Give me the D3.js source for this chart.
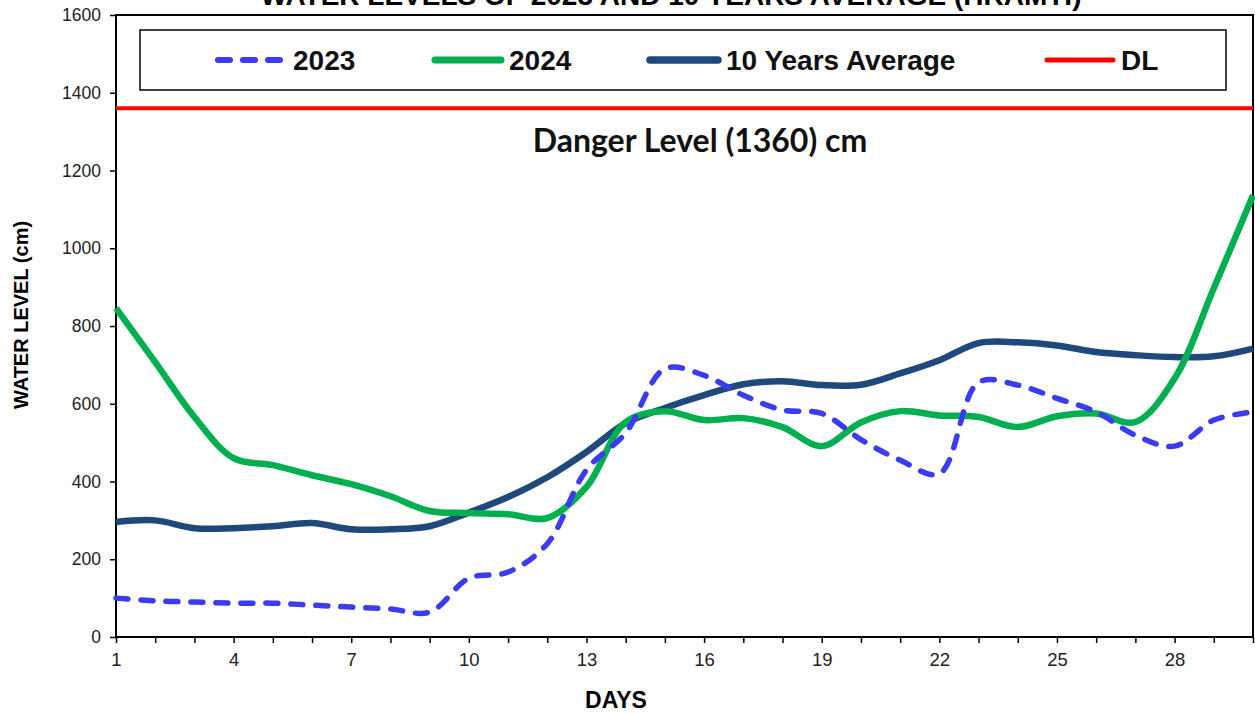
<!DOCTYPE html>
<html><head><meta charset="utf-8">
<script src="https://cdn.jsdelivr.net/npm/d3@7"></script>
<style>body{margin:0;background:#fff;}svg{display:block;}</style>
</head><body>
<svg id="c" width="1255" height="714"></svg>
<script>
const days = d3.range(1, 31);
const y2023 = [100,93,90,87,87,82,77,72,64,151,167,240,430,525,690,673,622,584,575,508,455,420,655,648,614,579,519,491,558,579];
const y2024 = [846,707,566,460,442,416,393,362,324,319,316,306,386,553,581,558,563,540,491,552,581,570,566,540,568,575,553,665,897,1136];
const avg10 = [296,300,280,280,285,293,277,277,285,320,360,411,476,550,589,622,650,658,648,649,678,712,756,758,750,733,725,720,722,742];
const dangerLevel = 1360;
const yTicks = [0,200,400,600,800,1000,1200,1400,1600];
const xTickLabels = [1,4,7,10,13,16,19,22,25,28];
const seriesNames = ["2023","2024","10 Years Average","DL"];

const svg = d3.select("#c");
const L = 116, R = 1253, T = 15, B = 637;
const x = d3.scaleLinear().domain([1,30]).range([L,R]);
const y = d3.scaleLinear().domain([0,1600]).range([B,T]);
const fontAx = "Liberation Sans, Arial, sans-serif";

// title (clipped at top, as in the reference)
svg.append("text").attr("x", 671).attr("y", 5).attr("text-anchor","middle")
  .attr("font-family",fontAx).attr("font-weight","bold").attr("font-size",28)
  .text("WATER LEVELS OF 2023 AND 10 YEARS AVERAGE (HRAMTI)");

// axes
const yAxis = svg.append("g").attr("transform",`translate(${L},0)`)
  .call(d3.axisLeft(y).tickValues(yTicks).tickFormat(d3.format("d")).tickSize(6).tickPadding(9));
yAxis.select(".domain").remove();
yAxis.selectAll("line").attr("stroke","#000").attr("stroke-width",1.5);
yAxis.selectAll("text").attr("font-family",fontAx).attr("font-size",17.5).attr("fill","#222");

const xAxis = svg.append("g").attr("transform",`translate(0,${B})`)
  .call(d3.axisBottom(x).tickValues(days).tickSize(6).tickPadding(10)
    .tickFormat(d => xTickLabels.includes(d) ? d : ""));
xAxis.select(".domain").remove();
xAxis.selectAll("line").attr("stroke","#000").attr("stroke-width",1.5);
xAxis.selectAll("text").attr("font-family",fontAx).attr("font-size",18.5).attr("fill","#222");

// plot border
svg.append("rect").attr("x",L).attr("y",T).attr("width",R-L).attr("height",B-T)
  .attr("fill","none").attr("stroke","#000").attr("stroke-width",2);

// axis titles
svg.append("text").attr("transform","translate(28,315) rotate(-90)").attr("text-anchor","middle")
  .attr("font-family",fontAx).attr("font-weight","bold").attr("font-size",20).text("WATER LEVEL (cm)");
svg.append("text").attr("x",616).attr("y",708).attr("text-anchor","middle")
  .attr("font-family",fontAx).attr("font-weight","bold").attr("font-size",23).text("DAYS");

// danger line
svg.append("line").attr("x1",L).attr("x2",R).attr("y1",y(dangerLevel)).attr("y2",y(dangerLevel))
  .attr("stroke","#FF0000").attr("stroke-width",4);
svg.append("text").attr("x",700).attr("y",152).attr("text-anchor","middle")
  .attr("font-family","Lato, Open Sans, sans-serif").attr("font-weight","bold").attr("font-size",32)
  .attr("fill","#111").text(`Danger Level (${dangerLevel}) cm`);

const line = d3.line().x((d,i)=>x(days[i])).y(d=>y(d)).curve(d3.curveCatmullRom.alpha(0.5));
svg.append("path").attr("d",line(avg10)).attr("fill","none").attr("stroke","#1F497D").attr("stroke-width",6.5).attr("stroke-linejoin","round");
svg.append("path").attr("d",line(y2024)).attr("fill","none").attr("stroke","#00B050").attr("stroke-width",6.5).attr("stroke-linejoin","round");
svg.append("path").attr("d",line(y2023)).attr("fill","none").attr("stroke","#3B3BF2").attr("stroke-width",5.5)
  .attr("stroke-dasharray","12,13").attr("stroke-linecap","round");

// legend
const lg = svg.append("g");
lg.append("rect").attr("x",140).attr("y",30).attr("width",1086).attr("height",60)
  .attr("fill","#fff").attr("stroke","#000").attr("stroke-width",1.5);
const items = [
  {name:seriesNames[0], x1:218, x2:280, tx:293, col:"#3B3BF2", dash:"12,13", w:6},
  {name:seriesNames[1], x1:435, x2:501, tx:509, col:"#00B050", dash:null, w:7},
  {name:seriesNames[2], x1:650, x2:718, tx:726, col:"#1F497D", dash:null, w:7.5},
  {name:seriesNames[3], x1:1047, x2:1113, tx:1121, col:"#FF0000", dash:null, w:5},
];
items.forEach(it=>{
  const ln = lg.append("line").attr("x1",it.x1).attr("x2",it.x2).attr("y1",60).attr("y2",60)
    .attr("stroke",it.col).attr("stroke-width",it.w).attr("stroke-linecap","round");
  if (it.dash) ln.attr("stroke-dasharray",it.dash);
  lg.append("text").attr("x",it.tx).attr("y",70).attr("font-family",fontAx)
    .attr("font-weight","bold").attr("font-size",28).attr("fill","#111").text(it.name);
});
</script>
</body></html>
